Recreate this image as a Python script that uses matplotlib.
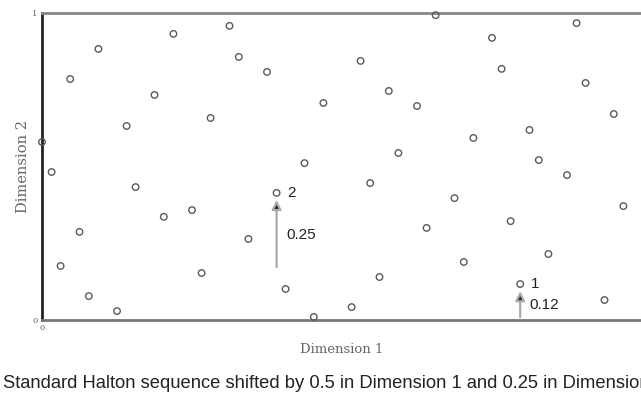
import matplotlib.pyplot as plt

# shifted Halton points
xs = [0.0, 0.016, 0.047, 0.094, 0.031, 0.0625, 0.078, 0.125, 0.141, 0.156,
      0.1875, 0.203, 0.219, 0.25, 0.266, 0.281, 0.3125, 0.328, 0.344, 0.375,
      0.391, 0.406, 0.4375, 0.453, 0.469, 0.516, 0.531, 0.547, 0.5625, 0.578,
      0.594, 0.625, 0.641, 0.656, 0.6875, 0.703, 0.719, 0.75, 0.766, 0.781,
      0.797, 0.8125, 0.828, 0.844, 0.875, 0.891, 0.906, 0.9375, 0.953, 0.969]
ys = [0.580, 0.482, 0.785, 0.883, 0.176, 0.287, 0.078, 0.029, 0.632, 0.433,
      0.733, 0.336, 0.932, 0.358, 0.153, 0.658, 0.958, 0.857, 0.264, 0.808,
      0.414, 0.101, 0.511, 0.010, 0.707, 0.042, 0.844, 0.446, 0.140, 0.746,
      0.544, 0.697, 0.300, 0.993, 0.397, 0.189, 0.593, 0.919, 0.818, 0.322,
      0.117, 0.619, 0.521, 0.215, 0.472, 0.967, 0.772, 0.065, 0.671, 0.371]

# highlighted points: label, x, arrow start, arrow end, shift text
marks = ['2', '1']
mark_x = [0.391, 0.797]
mark_y = [0.414, 0.117]
arrow_from = [0.163, 0.0]
arrow_to = [0.40, 0.103]
shift_text = ['0.25', '0.12']

fig = plt.figure(figsize=(6.41, 3.96), dpi=100)
ax = fig.add_axes([42 / 641, 76 / 396, 600 / 641, 307 / 396])

ax.scatter(xs, ys, s=22, facecolors='none', edgecolors='#5a5a5a', linewidths=1.0,
           clip_on=False, zorder=3)

for i in range(len(marks)):
    ax.annotate('', xy=(mark_x[i], arrow_to[i]), xytext=(mark_x[i], arrow_from[i]),
                arrowprops=dict(arrowstyle='-|>,head_width=0.28,head_length=0.55',
                                ec='#aaaaaa', fc='#222222', lw=1.6))
    ax.text(mark_x[i] + 0.018, mark_y[i], marks[i], fontsize=11,
            family='Liberation Sans', va='center', ha='left', color='#222222')
    ax.text(mark_x[i] + 0.016, (mark_y[i] + arrow_from[i]) / 2 - 0.01, shift_text[i],
            fontsize=11, family='Liberation Sans', va='center', ha='left',
            color='#222222')

ax.set_xlim(0, 1)
ax.set_ylim(0, 1)
ax.set_xticks([0])
ax.set_yticks([0, 1])
ax.set_xticklabels(['0'])
ax.set_yticklabels(['0', '1'])
ax.tick_params(length=0, labelsize=6, labelcolor='#666666', pad=3)
for lab in ax.get_xticklabels() + ax.get_yticklabels():
    lab.set_family('DejaVu Serif')

ax.spines['left'].set_color('#222222')
ax.spines['left'].set_linewidth(2)
ax.spines['top'].set_color('#888888')
ax.spines['top'].set_linewidth(2)
ax.spines['bottom'].set_color('#777777')
ax.spines['bottom'].set_linewidth(2)
ax.spines['right'].set_visible(False)

ax.set_xlabel('Dimension 1', fontsize=9.5, family='DejaVu Serif', color='#666666',
              labelpad=8)
ax.set_ylabel('Dimension 2', fontsize=10.5, family='DejaVu Serif', color='#666666',
              labelpad=2)

fig.text(3 / 641, 1 - 383 / 396, 'Standard Halton sequence shifted by 0.5 in Dimension 1 '
         'and 0.25 in Dimension 2', fontsize=13.2, family='Liberation Sans',
         va='center', ha='left', color='#222222')

fig.savefig('out.png', dpi=100)
